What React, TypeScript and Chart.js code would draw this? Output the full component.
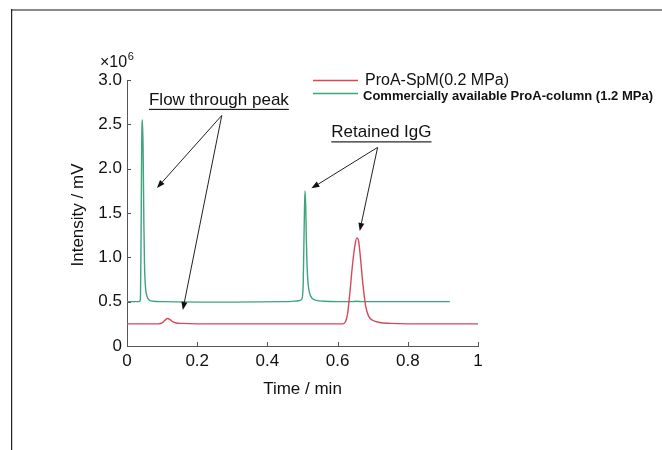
import React, { useEffect, useRef } from "react";
import { Chart, registerables } from "chart.js";
Chart.register(...registerables);

// Commercially available ProA-column (1.2 MPa) — green trace
const greenTime = [0, 0.035, 0.038, 0.04, 0.042, 0.044, 0.046, 0.048, 0.05, 0.053, 0.057, 0.063, 0.075, 0.1, 0.3, 0.45, 0.49, 0.498, 0.502, 0.505, 0.507, 0.509, 0.511, 0.513, 0.516, 0.52, 0.527, 0.54, 0.56, 0.6, 0.64, 0.655, 0.67, 0.75, 0.92];
const greenValue = [0.5, 0.5, 0.52, 1.2, 2.3, 2.55, 2.2, 1.4, 0.9, 0.65, 0.56, 0.52, 0.505, 0.5, 0.495, 0.5, 0.51, 0.53, 0.7, 1.4, 1.75, 1.6, 1.2, 0.9, 0.7, 0.6, 0.54, 0.515, 0.505, 0.5, 0.5, 0.505, 0.5, 0.5, 0.5];

// ProA-SpM (0.2 MPa) — red trace
const redTime = [0, 0.09, 0.1, 0.108, 0.115, 0.122, 0.13, 0.14, 0.155, 0.2, 0.5, 0.615, 0.622, 0.628, 0.635, 0.642, 0.65, 0.655, 0.66, 0.665, 0.672, 0.68, 0.688, 0.7, 0.72, 0.75, 0.8, 1.0];
const redValue = [0.25, 0.25, 0.26, 0.29, 0.31, 0.3, 0.275, 0.26, 0.255, 0.25, 0.25, 0.25, 0.27, 0.35, 0.6, 0.9, 1.15, 1.22, 1.18, 1.0, 0.7, 0.45, 0.34, 0.29, 0.265, 0.255, 0.25, 0.25];

const xTicks = [0, 0.2, 0.4, 0.6, 0.8, 1];
const yTicks = [0, 0.5, 1, 1.5, 2, 2.5, 3];
const seriesLabels = ["ProA-SpM(0.2 MPa)", "Commercially available ProA-column (1.2 MPa)"];
const seriesColors = ["#d5485a", "#3da57c"];
const xTitle = "Time / min";
const yTitle = "Intensity / mV";

// annotations: label, label anchor (data units), arrow apex, arrow tips
const annoLabels = ["Flow through peak", "Retained IgG"];
const annoLabelPos = [[0.0626, 2.72], [0.582, 2.354]];
const annoApex = [[0.27, 2.6], [0.714, 2.24]];
const annoTips = [[[0.0853, 1.782], [0.159, 0.406]], [[0.5255, 1.778], [0.663, 1.297]]];

const FONT = "'Liberation Sans', Arial, sans-serif";

const decorPlugin = {
  id: "decor",
  beforeDraw(chart: any) {
    const ctx = chart.ctx;
    ctx.save();
    ctx.fillStyle = "#fff";
    ctx.fillRect(0, 0, chart.width, chart.height);
    // page frame
    ctx.fillStyle = "#8a8a8a";
    ctx.fillRect(11, 9, chart.width - 11, 2);
    ctx.fillStyle = "#222";
    ctx.fillRect(11, 9, 1.2, chart.height - 9);
    ctx.restore();
  },
  afterDraw(chart: any) {
    const ctx = chart.ctx;
    const xs = chart.scales.x;
    const ys = chart.scales.y;
    const area = chart.chartArea;
    const px = (v: number) => xs.getPixelForValue(v);
    const py = (v: number) => ys.getPixelForValue(v);
    ctx.save();
    // inward tick marks
    ctx.strokeStyle = "#555";
    ctx.lineWidth = 1;
    ctx.beginPath();
    xTicks.forEach((v) => {
      const x = Math.round(px(v)) + 0.5;
      ctx.moveTo(x, area.bottom);
      ctx.lineTo(x, area.bottom - 4);
    });
    yTicks.forEach((v) => {
      const y = Math.round(py(v)) + 0.5;
      ctx.moveTo(area.left, y);
      ctx.lineTo(area.left + 4, y);
    });
    ctx.stroke();

    ctx.fillStyle = "#111";
    // axis titles
    ctx.font = `17px ${FONT}`;
    ctx.textAlign = "center";
    ctx.textBaseline = "middle";
    ctx.fillText(xTitle, (area.left + area.right) / 2, 389);
    ctx.save();
    ctx.translate(78, (area.top + area.bottom) / 2 + 2);
    ctx.rotate(-Math.PI / 2);
    ctx.fillText(yTitle, 0, 0);
    ctx.restore();

    // exponent label
    ctx.textAlign = "left";
    ctx.textBaseline = "alphabetic";
    ctx.font = `16px ${FONT}`;
    ctx.fillText("×10", 100, 67);
    const w = ctx.measureText("×10").width;
    ctx.font = `11px ${FONT}`;
    ctx.fillText("6", 100 + w + 0.5, 60);

    // legend
    const lx0 = 313, lx1 = 358;
    ctx.lineWidth = 1.5;
    ctx.strokeStyle = seriesColors[0];
    ctx.beginPath();
    ctx.moveTo(lx0, 80.5);
    ctx.lineTo(lx1, 80.5);
    ctx.stroke();
    ctx.strokeStyle = seriesColors[1];
    ctx.beginPath();
    ctx.moveTo(lx0, 93.5);
    ctx.lineTo(lx1, 93.5);
    ctx.stroke();
    ctx.fillStyle = "#111";
    ctx.font = `16px ${FONT}`;
    ctx.fillText(seriesLabels[0], 365, 85);
    ctx.font = `bold 13.5px ${FONT}`;
    ctx.fillText(seriesLabels[1], 363, 99.5, 290);

    // annotations
    ctx.font = `17px ${FONT}`;
    annoLabels.forEach((t, i) => {
      const x = px(annoLabelPos[i][0]);
      const y = py(annoLabelPos[i][1]);
      ctx.fillStyle = "#111";
      ctx.fillText(t, x, y);
      const tw = ctx.measureText(t).width;
      ctx.fillStyle = "#222";
      ctx.fillRect(x, y + 4, tw, 1.2);
      const ax = px(annoApex[i][0]);
      const ay = py(annoApex[i][1]);
      annoTips[i].forEach((tp) => {
        const tx = px(tp[0]);
        const ty = py(tp[1]);
        const ang = Math.atan2(ty - ay, tx - ax);
        const hl = 8, hw = 3;
        const bx = tx - hl * Math.cos(ang);
        const by = ty - hl * Math.sin(ang);
        ctx.strokeStyle = "#222";
        ctx.lineWidth = 1;
        ctx.beginPath();
        ctx.moveTo(ax, ay);
        ctx.lineTo(bx, by);
        ctx.stroke();
        ctx.fillStyle = "#111";
        ctx.beginPath();
        ctx.moveTo(tx, ty);
        ctx.lineTo(bx + hw * Math.sin(ang), by - hw * Math.cos(ang));
        ctx.lineTo(bx - hw * Math.sin(ang), by + hw * Math.cos(ang));
        ctx.closePath();
        ctx.fill();
      });
    });
    ctx.restore();
  },
};

export default function App() {
  const ref = useRef<HTMLCanvasElement | null>(null);
  useEffect(() => {
    if (!ref.current) return;
    const chart = new Chart(ref.current, {
      type: "line",
      data: {
        datasets: [
          {
            label: seriesLabels[0],
            data: redTime.map((t, i) => ({ x: t, y: redValue[i] })),
            borderColor: seriesColors[0],
            borderWidth: 1.4,
            pointRadius: 0,
            cubicInterpolationMode: "monotone",
            fill: false,
          },
          {
            label: seriesLabels[1],
            data: greenTime.map((t, i) => ({ x: t, y: greenValue[i] })),
            borderColor: seriesColors[1],
            borderWidth: 1.4,
            pointRadius: 0,
            cubicInterpolationMode: "monotone",
            fill: false,
          },
        ],
      },
      options: {
        responsive: false,
        animation: false,
        layout: { padding: { top: 80, right: 184, left: 0, bottom: 0 } },
        plugins: { legend: { display: false }, tooltip: { enabled: false } },
        scales: {
          x: {
            type: "linear",
            min: 0,
            max: 1,
            afterBuildTicks: (s: any) => {
              s.ticks = xTicks.map((v) => ({ value: v }));
            },
            afterFit: (s: any) => {
              s.height = 104;
            },
            grid: { display: false, drawTicks: false, tickLength: 0 },
            border: { display: true, color: "#555", width: 1 },
            ticks: {
              padding: 5,
              color: "#111",
              font: { family: FONT, size: 17 },
              maxRotation: 0,
              callback: (v: any) => (v === 0 ? "0" : v === 1 ? "1" : Number(v).toFixed(1)),
            },
          },
          y: {
            type: "linear",
            min: 0,
            max: 3,
            afterBuildTicks: (s: any) => {
              s.ticks = yTicks.map((v) => ({ value: v }));
            },
            afterFit: (s: any) => {
              s.width = 127;
            },
            grid: { display: false, drawTicks: false, tickLength: 0 },
            border: { display: true, color: "#555", width: 1 },
            ticks: {
              padding: 5,
              color: "#111",
              font: { family: FONT, size: 17 },
              callback: (v: any) => (v === 0 ? "0" : Number(v).toFixed(1)),
            },
          },
        },
      },
      plugins: [decorPlugin],
    } as any);
    return () => chart.destroy();
  }, []);
  return (
    <div style={{ position: "fixed", left: 0, top: 0, width: 662, height: 450, background: "#fff" }}>
      <canvas ref={ref} width={662} height={450} style={{ display: "block" }} />
    </div>
  );
}
